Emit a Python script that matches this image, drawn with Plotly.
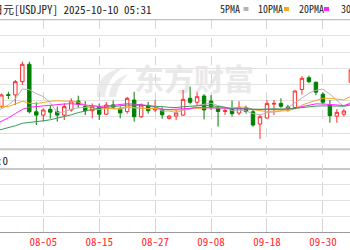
import plotly.graph_objects as go

# ---------------- data ----------------
dates = ["2025-07-25", "2025-07-28", "2025-07-29", "2025-07-30", "2025-07-31",
         "2025-08-01", "2025-08-04", "2025-08-05", "2025-08-06", "2025-08-07",
         "2025-08-08", "2025-08-11", "2025-08-12", "2025-08-13", "2025-08-14",
         "2025-08-15", "2025-08-18", "2025-08-19", "2025-08-20", "2025-08-21",
         "2025-08-22", "2025-08-25", "2025-08-26", "2025-08-27", "2025-08-28",
         "2025-08-29", "2025-09-01", "2025-09-02", "2025-09-03", "2025-09-04",
         "2025-09-05", "2025-09-08", "2025-09-09", "2025-09-10", "2025-09-11",
         "2025-09-12", "2025-09-15", "2025-09-16", "2025-09-17", "2025-09-18",
         "2025-09-19", "2025-09-22", "2025-09-23", "2025-09-24", "2025-09-25",
         "2025-09-26", "2025-09-29", "2025-09-30", "2025-10-01", "2025-10-02",
         "2025-10-03", "2025-10-06"]

opens = [146.95, 147.78, 148.60, 148.58, 149.49, 150.68, 147.43, 147.20, 147.60, 147.43,
         147.20, 147.55, 148.16, 147.80, 147.50, 147.78, 147.26, 147.90, 147.60, 147.44,
         148.23, 147.09, 147.84, 147.55, 147.58, 146.98, 147.14, 147.20, 148.35, 148.08,
         148.51, 148.16, 147.66, 147.45, 147.60, 147.34, 147.70, 147.43, 146.59, 147.00,
         147.95, 148.00, 147.75, 147.72, 148.95, 149.76, 149.45, 148.63, 147.89, 147.13,
         147.26, 149.45]
highs = [147.85, 148.68, 148.80, 149.60, 150.86, 150.86, 148.08, 147.67, 147.86, 147.78,
         148.00, 148.35, 148.53, 148.15, 148.00, 148.00, 148.10, 148.20, 147.80, 148.45,
         148.80, 148.00, 148.10, 148.23, 147.73, 147.20, 147.55, 148.92, 149.15, 148.76,
         148.63, 148.57, 147.80, 147.68, 148.20, 148.15, 147.85, 147.55, 147.21, 148.23,
         148.23, 148.35, 147.90, 148.90, 149.87, 149.90, 149.50, 148.76, 148.23, 147.62,
         147.62, 150.45]
lows = [146.85, 147.69, 148.30, 147.89, 149.26, 147.32, 146.52, 146.75, 146.96, 146.75,
        146.86, 147.43, 147.69, 147.20, 146.98, 146.86, 147.20, 147.60, 146.98, 147.30,
        146.75, 147.00, 147.30, 147.43, 146.95, 146.90, 146.86, 147.16, 147.94, 147.89,
        146.90, 147.55, 146.41, 147.21, 147.10, 147.20, 147.30, 146.41, 145.57, 146.98,
        147.20, 147.70, 147.45, 147.60, 148.60, 149.38, 148.57, 147.94, 146.68, 146.68,
        147.10, 148.90]
closes = [147.70, 148.58, 148.55, 149.49, 150.68, 147.43, 147.20, 147.55, 147.40, 147.20,
          147.78, 148.16, 147.96, 147.50, 147.80, 147.26, 147.89, 147.75, 147.35, 148.35,
          147.09, 147.89, 147.50, 147.68, 147.22, 147.13, 147.35, 148.28, 148.08, 148.46,
          147.55, 147.71, 147.45, 147.50, 147.30, 147.73, 147.45, 146.52, 147.09, 148.00,
          148.00, 147.80, 147.65, 148.85, 149.72, 149.49, 148.77, 148.08, 147.16, 147.39,
          147.48, 150.30]

ma5 = [147.45, 147.62, 147.90, 148.30, 148.99, 148.94, 148.67, 148.47, 148.05, 147.36,
       147.43, 147.62, 147.70, 147.72, 147.84, 147.74, 147.68, 147.64, 147.61, 147.72,
       147.69, 147.69, 147.64, 147.70, 147.48, 147.48, 147.38, 147.53, 147.61, 147.86,
       147.94, 148.02, 147.85, 147.73, 147.50, 147.54, 147.49, 147.30, 147.22, 147.36,
       147.41, 147.48, 147.71, 148.06, 148.40, 148.70, 148.90, 148.98, 148.64, 148.18,
       147.78, 148.08]
ma10 = [147.73, 147.82, 147.78, 147.94, 148.15, 148.01, 147.99, 148.06, 148.15, 148.18,
        148.18, 148.14, 148.09, 147.89, 147.60, 147.58, 147.65, 147.67, 147.67, 147.78,
        147.71, 147.68, 147.64, 147.66, 147.60, 147.59, 147.53, 147.58, 147.66, 147.67,
        147.71, 147.70, 147.69, 147.67, 147.68, 147.74, 147.75, 147.58, 147.48, 147.43,
        147.48, 147.48, 147.50, 147.64, 147.88, 148.06, 148.19, 148.35, 148.35, 148.29,
        148.24, 148.49]
ma20 = [146.53, 146.76, 147.01, 147.30, 147.59, 147.74, 147.79, 147.84, 147.89, 147.94,
        147.96, 147.98, 147.93, 147.91, 147.87, 147.80, 147.82, 147.86, 147.91, 147.98,
        147.95, 147.91, 147.86, 147.77, 147.60, 147.58, 147.59, 147.63, 147.66, 147.72,
        147.71, 147.69, 147.66, 147.66, 147.64, 147.66, 147.64, 147.58, 147.57, 147.55,
        147.59, 147.59, 147.60, 147.66, 147.78, 147.90, 147.97, 147.96, 147.91, 147.86,
        147.86, 147.99]
ma30 = [146.09, 146.22, 146.32, 146.47, 146.64, 146.69, 146.72, 146.81, 146.88, 146.98,
        147.08, 147.22, 147.37, 147.50, 147.59, 147.68, 147.74, 147.78, 147.82, 147.89,
        147.87, 147.88, 147.83, 147.83, 147.78, 147.73, 147.72, 147.77, 147.82, 147.87,
        147.87, 147.84, 147.80, 147.74, 147.63, 147.64, 147.64, 147.61, 147.60, 147.63,
        147.63, 147.62, 147.61, 147.66, 147.72, 147.79, 147.82, 147.83, 147.83, 147.80,
        147.81, 147.89]

tick_dates = ["2025-08-05", "2025-08-15", "2025-08-27", "2025-09-08", "2025-09-18", "2025-09-30"]
tick_labels = ["08-05", "08-15", "08-27", "09-08", "09-18", "09-30"]
ma_names = ["5PMA", "10PMA", "20PMA", "30PMA"]
title_text = "美元兑日元[USDJPY] 2025-10-10 05:31"
volume_label = "成交量:0"
watermark = "东方财富"

# ---------------- styling ----------------
W, H = 350, 250
FONT = "Noto Sans Mono CJK SC, DejaVu Sans Mono, monospace"
RED = "#ff2a2a"
GREEN = "#008000"
ma_colors = ["#b4b4b4", "#f5a623", "#ff22ff", "#3a9a5c"]


def px(x):
    return x / W


def py(y):
    return 1 - y / H


MAIN_TOP, MAIN_BOT = 19.7, 149.3
LOW_TOP, LOW_BOT = 169.0, 231.7
# price axis: 150.70 sits at pixel 64, 14.6 px per yen
ylo = 150.70 - (MAIN_BOT - 64) / 14.6
yhi = 150.70 + (64 - MAIN_TOP) / 14.6

fig = go.Figure()

fig.add_trace(go.Candlestick(
    x=dates, open=opens, high=highs, low=lows, close=closes,
    xaxis="x", yaxis="y2",
    increasing=dict(line=dict(color=RED, width=1), fillcolor="white"),
    decreasing=dict(line=dict(color=GREEN, width=1), fillcolor=GREEN),
    whiskerwidth=0, showlegend=False, hoverinfo="skip",
))

for name, vals, col in zip(ma_names, [ma5, ma10, ma20, ma30], ma_colors):
    fig.add_trace(go.Scatter(
        x=dates, y=vals, mode="lines", name=name, xaxis="x", yaxis="y2",
        line=dict(color=col, width=1), showlegend=False, hoverinfo="skip",
    ))

# empty traces so the full-height and lower panels exist
fig.add_trace(go.Scatter(x=[], y=[], xaxis="x", yaxis="y", showlegend=False))
fig.add_trace(go.Scatter(x=[], y=[], xaxis="x", yaxis="y3", showlegend=False))

i_first = dates.index("2025-08-05")
x_range = [i_first - 43.3 / 6.99, i_first + (W - 43.3) / 6.99]

fig.update_layout(
    width=W, height=H,
    margin=dict(l=0, r=0, t=0, b=0),
    paper_bgcolor="white", plot_bgcolor="rgba(0,0,0,0)",
    showlegend=False,
    xaxis=dict(
        type="category", categoryorder="array", categoryarray=dates,
        domain=[0, 1], anchor="y", range=x_range,
        tickmode="array", tickvals=tick_dates, ticktext=tick_labels,
        tickfont=dict(family=FONT, size=11, color=RED),
        showgrid=True, gridcolor="#d6d6d6", griddash="dash", gridwidth=1,
        showline=True, linecolor="#9a9a9a", linewidth=1,
        ticks="", rangeslider=dict(visible=False), fixedrange=True,
    ),
    yaxis=dict(domain=[py(LOW_BOT), py(MAIN_TOP)], range=[0, 1], visible=False,
               fixedrange=True),
    yaxis2=dict(domain=[py(MAIN_BOT), py(MAIN_TOP)], anchor="x", range=[ylo, yhi],
                tickmode="linear", tick0=ylo, dtick=(yhi - ylo) / 8,
                showticklabels=False, ticks="", showgrid=True, gridcolor="#e2e2e2",
                gridwidth=1, zeroline=False, fixedrange=True),
    yaxis3=dict(domain=[py(LOW_BOT), py(LOW_TOP)], anchor="x", range=[0, 4],
                tickmode="linear", tick0=0, dtick=1, showticklabels=False, ticks="",
                showgrid=True, gridcolor="#e2e2e2", gridwidth=1, zeroline=False,
                fixedrange=True),
)

shapes = []
# panel border lines
for yy, col, w in [(MAIN_TOP, "#b0b0b0", 1), (MAIN_BOT, "#c8c8c8", 2), (LOW_TOP, "#c8c8c8", 2)]:
    shapes.append(dict(type="line", xref="paper", yref="paper", x0=0, x1=1,
                       y0=py(yy), y1=py(yy), line=dict(color=col, width=w), layer="below"))

# watermark text + logo (behind the data)
shapes.append(dict(type="rect", xref="paper", yref="paper",
                   x0=px(128), x1=px(260), y0=py(99), y1=py(65),
                   line=dict(width=0), fillcolor="rgba(0,0,0,0)", layer="below",
                   label=dict(text=watermark, textposition="middle center",
                              font=dict(family="Noto Sans CJK SC", size=30,
                                        color="#e9e9e9", weight="bold"))))


def path_px(pts):
    out = []
    for cmd, coords in pts:
        s = cmd
        s += " ".join(f"{px(coords[i]):.5f},{py(coords[i + 1]):.5f}" for i in range(0, len(coords), 2))
        out.append(s)
    return " ".join(out) + " Z"


logo1 = path_px([("M", (97, 97)), ("C", (95, 84, 104, 71, 124, 67)), ("C", (112, 75, 106, 85, 105, 97))])
logo2 = path_px([("M", (109, 97)), ("C", (109, 87, 115, 78, 128, 74)), ("C", (121, 81, 117, 89, 116, 97))])
for p in (logo1, logo2):
    shapes.append(dict(type="path", xref="paper", yref="paper", path=p,
                       fillcolor="#ebebeb", line=dict(width=0), layer="below"))

# legend colour marks
mark_x = [243.5, 284.0, 324.0, 366.0]
for mx, col in zip(mark_x, ma_colors):
    shapes.append(dict(type="rect", xref="paper", yref="paper",
                       x0=px(mx), x1=px(mx + 5), y0=py(11.0), y1=py(7.0),
                       fillcolor=col, line=dict(width=0), layer="above"))
fig.update_layout(shapes=shapes)

ann = []
ann.append(dict(text=title_text, xref="paper", yref="paper", x=px(153.5), y=py(8.8),
                xanchor="right", yanchor="middle", showarrow=False,
                font=dict(family=FONT, size=11, color="#222222")))
leg_x = [219.3, 257.2, 297.6, 340.2]
for lx, name in zip(leg_x, ma_names):
    ann.append(dict(text=name, xref="paper", yref="paper", x=px(lx - 1), y=py(8.8),
                    xanchor="left", yanchor="middle", showarrow=False,
                    font=dict(family=FONT, size=10, color="#222222")))
ann.append(dict(text=volume_label, xref="paper", yref="paper", x=px(9.5), y=py(160),
                xanchor="right", yanchor="middle", showarrow=False,
                font=dict(family=FONT, size=11, color="#222222")))
fig.update_layout(annotations=ann)

fig.write_html("out.html")
